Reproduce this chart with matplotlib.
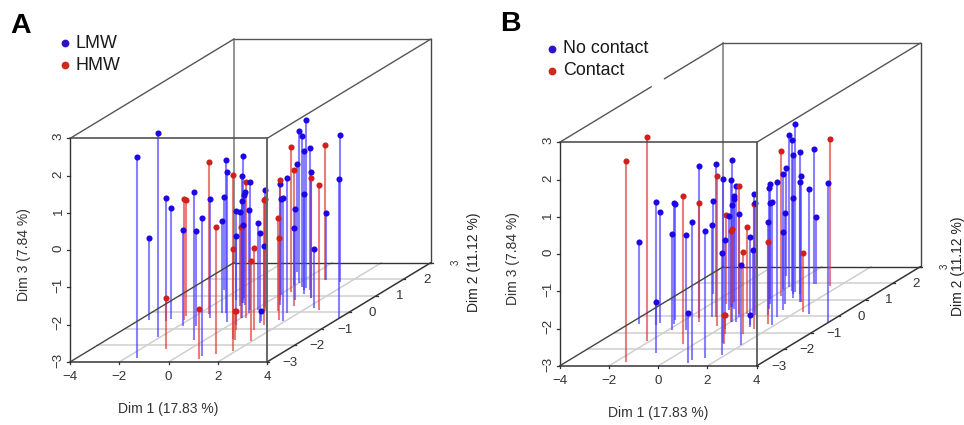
import matplotlib
matplotlib.use('Agg')
import matplotlib.pyplot as plt

plt.rcParams['font.family'] = ['Liberation Sans', 'DejaVu Sans']

# PCA coordinates, same samples in both panels
dim1 = [-1.56,-2.13,-3.59,-2.83,-2.77,-1.83,-2.16,-2.37,-0.45,-1.28,
        0.98,-1.55,-1.26,1.38,-1.11,-2.58,-0.95,-0.31,1.09,1.87,
        0.25,-1.39,-0.85,0.02,-0.97,0.06,-0.92,-1.12,-0.72,-1.20,
        0.22,0.01,-0.17,1.31,0.16,1.12,0.46,0.22,1.41,0.52,
        1.05,1.67,0.71,0.39,0.07,1.88,1.53,0.29,1.35,-0.06,
        1.01,-0.83,0.03,0.40,0.95,0.68,0.63,0.94,1.49,1.52,
        2.29,2.65,0.87,0.93,3.98,1.61,1.93,-0.95,1.01,1.21,
        0.59,1.01]
dim2 = [-2.76,-1.48,-0.47,-0.53,-0.43,-0.83,-0.47,-0.23,-1.67,-0.83,
        -2.64,-0.11,-0.35,-2.52,-0.03,1.34,-0.03,-0.57,-1.61,-2.34,
        -0.77,0.73,0.37,-0.35,0.55,-0.35,0.55,0.73,0.43,0.86,
        -0.35,-0.05,0.13,-1.07,0.13,-0.65,0.07,0.33,-0.77,0.07,
        0.07,-0.47,0.43,0.73,1.04,-0.51,-0.03,1.23,0.37,1.64,
        0.73,2.44,1.76,1.54,1.10,1.34,1.46,1.34,0.86,0.86,
        0.25,0.13,1.94,1.94,-0.35,1.84,-1.72,-2.22,-2.80,-1.67,
        -1.07,-0.53]
dim3 = [2.39,2.48,-0.80,0.31,0.00,-0.42,0.24,0.12,0.96,-0.45,
        0.70,1.08,0.19,0.42,-0.54,-0.50,1.09,1.03,1.39,-0.27,
        -0.62,-0.61,-0.46,-0.55,0.41,0.14,0.94,-0.97,0.05,-0.23,
        0.66,-0.23,0.45,-0.80,-0.65,-0.59,-1.25,0.13,0.36,0.01,
        -0.51,-0.80,0.26,0.23,-0.42,0.29,0.63,0.90,0.66,-1.47,
        -0.54,-0.10,1.07,1.04,0.83,-0.43,1.52,0.80,0.21,0.37,
        -1.42,0.35,0.64,-1.21,0.74,0.93,-0.87,-1.63,-1.68,-2.22,
        -2.49,-2.73]

# 1 = HMW / Contact
group_a = [0,0,0,0,0,0,1,1,0,0, 0,1,0,1,0,0,0,0,1,1, 0,0,0,1,0,0,0,0,0,0,
           1,0,0,1,0,0,0,0,1,1, 1,1,0,1,0,0,0,1,1,0, 0,0,0,0,0,0,0,0,1,0,
           0,1,1,0,0,0,1,1,1,1, 1,0]
group_b = [1,1,0,0,0,0,0,0,1,0, 0,0,1,0,0,0,0,1,0,0, 0,1,0,1,0,0,0,1,0,0,
           0,0,1,1,1,0,0,0,1,0, 0,1,0,0,0,0,0,1,0,0, 0,0,0,0,0,0,0,0,0,0,
           1,0,0,0,0,1,0,0,0,1, 1,0]

x_ticks = [-4, -2, 0, 2, 4]
y_ticks = [-3, -2, -1, 0, 1, 2, 3]
z_ticks = [-3, -2, -1, 0, 1, 2, 3]

xlab = 'Dim 1 (17.83 %)'
ylab = 'Dim 2 (11.12 %)'
zlab = 'Dim 3 (7.84 %)'

XL, XH = -4, 4
YL, YH = -3, 3
ZL, ZH = -3, 3

# oblique projection, like scatterplot3d
KU = 27.3 / 24.6
KV = 16.6 / 37.33
STEM = ['#4a3cff', '#dd3a34']
DOT = ['#1c06e8', '#d01f1c']


def u(x, y):
    return x + KU * (y - YL)


def v(y, z):
    return z + KV * (y - YL)


def seg(ax, p0, p1, c, lw, z=1):
    ax.plot([u(p0[0], p0[1]), u(p1[0], p1[1])], [v(p0[1], p0[2]), v(p1[1], p1[2])],
            color=c, lw=lw, zorder=z, solid_capstyle='round', clip_on=False)


def draw_panel(ax, group, letter, names, ylab_u):
    ax.set_xlim(u(XL, YL), u(XH, YH))
    ax.set_ylim(v(YL, ZL), v(YH, ZH))
    ax.axis('off')

    # floor grid
    for t in x_ticks[1:-1]:
        seg(ax, (t, YL, ZL), (t, YH, ZL), '#cfcfcf', 1.1)
    for t in y_ticks[1:-1]:
        seg(ax, (XL, t, ZL), (XH, t, ZL), '#cfcfcf', 1.1)

    # back of the box
    seg(ax, (XL, YH, ZL), (XH, YH, ZL), '#333333', 1.0, 2)
    seg(ax, (XL, YH, ZL), (XL, YH, ZH), '#777777', 1.1, 2)
    seg(ax, (XL, YH, ZH), (XH, YH, ZH), '#555555', 1.0, 2)
    seg(ax, (XH, YH, ZL), (XH, YH, ZH), '#444444', 1.0, 2)

    # stems and points
    for i in range(len(dim1)):
        g = group[i]
        px = u(dim1[i], dim2[i])
        ax.plot([px, px], [v(dim2[i], ZL), v(dim2[i], dim3[i])], color=STEM[g],
                lw=1.5, alpha=0.65, zorder=3, solid_capstyle='butt')
    for i in range(len(dim1)):
        g = group[i]
        ax.plot(u(dim1[i], dim2[i]), v(dim2[i], dim3[i]), 'o', color=DOT[g],
                ms=4.4, mew=0, zorder=4, clip_on=False)

    # front of the box
    seg(ax, (XL, YL, ZL), (XH, YL, ZL), '#444444', 1.2, 5)
    seg(ax, (XL, YL, ZL), (XL, YL, ZH), '#333333', 1.0, 5)
    seg(ax, (XL, YL, ZH), (XH, YL, ZH), '#444444', 1.1, 5)
    seg(ax, (XH, YL, ZL), (XH, YL, ZH), '#666666', 1.4, 5)
    seg(ax, (XL, YL, ZL), (XL, YH, ZL), '#444444', 1.0, 5)
    seg(ax, (XL, YL, ZH), (XL, YH, ZH), '#555555', 1.0, 5)
    seg(ax, (XH, YL, ZL), (XH, YH, ZL), '#333333', 1.1, 5)
    seg(ax, (XH, YL, ZH), (XH, YH, ZH), '#555555', 1.0, 5)

    # ticks and labels
    tc = '#333333'
    for t in x_ticks:
        ax.plot([t, t], [ZL, ZL - 0.06], color=tc, lw=0.9, clip_on=False, zorder=5)
        ax.text(t, ZL - 0.41, str(t).replace('-', '\u2212'), ha='center', va='center',
                fontsize=9.6, color=tc)
    for t in z_ticks:
        ax.plot([XL, XL - 0.12], [t, t], color=tc, lw=0.9, clip_on=False, zorder=5)
        ax.text(XL - 0.46, t + 0.05, str(t).replace('-', '\u2212'), ha='center', va='center',
                rotation=90, fontsize=9.6, color=tc)
    for t in y_ticks:
        ax.plot([u(XH, t), u(XH, t) + 0.07], [v(t, ZL), v(t, ZL)], color=tc, lw=0.9,
                clip_on=False, zorder=5)
        if t == YH:
            ax.text(u(XH, t) + 1.0, v(t, ZL), str(t), ha='center', va='center',
                    rotation=90, fontsize=7, color=tc)
        else:
            ax.text(u(XH, t) + 0.93, v(t, ZL) - 0.02, str(t).replace('-', '\u2212'),
                    ha='center', va='center', fontsize=9.6, color=tc)

    ax.text(0, -4.26, xlab, ha='center', va='center', fontsize=10, color=tc)
    ax.text(-5.87, -0.11, zlab, ha='center', va='center', rotation=90, fontsize=10, color=tc)
    ax.text(ylab_u, -0.33, ylab, ha='center', va='center', rotation=90, fontsize=10, color='#222222')

    # panel letter and key
    ax.text(letter[1], letter[2], letter[0], ha='center', va='center', fontsize=20.5,
            fontweight='bold', color='black')
    for k, name in enumerate(names):
        ax.plot(names[name][0], names[name][1], 'o', ms=5.6, mew=0, clip_on=False,
                color=['#2a14c4', '#cc2a1c'][k], zorder=6)
        ax.text(names[name][0] + 0.42, names[name][1], name, ha='left', va='center',
                fontsize=12.9, color='#1a1a1a')


fig = plt.figure(figsize=(9.64, 4.25), dpi=100)
W, H = 964.0, 425.0

ax_a = fig.add_axes([70 / W, (H - 362) / H, 361 / W, 323 / H])
draw_panel(ax_a, group_a, ('A', -6.0, 6.03),
           {'LMW': (-4.19, 5.55), 'HMW': (-4.19, 4.96)}, 12.42)

ax_b = fig.add_axes([559.5 / W, (H - 366) / H, 361 / W, 323 / H])
draw_panel(ax_b, group_b, ('B', -5.99, 6.18),
           {'No contact': (-4.29, 5.52), 'Contact': (-4.29, 4.93)}, 12.17)
# small break in the upper depth edge of panel B
seg(ax_b, (XL, 0.42, ZH), (XL, 0.78, ZH), 'white', 2.2, 7)

fig.savefig('out.png', dpi=100)
